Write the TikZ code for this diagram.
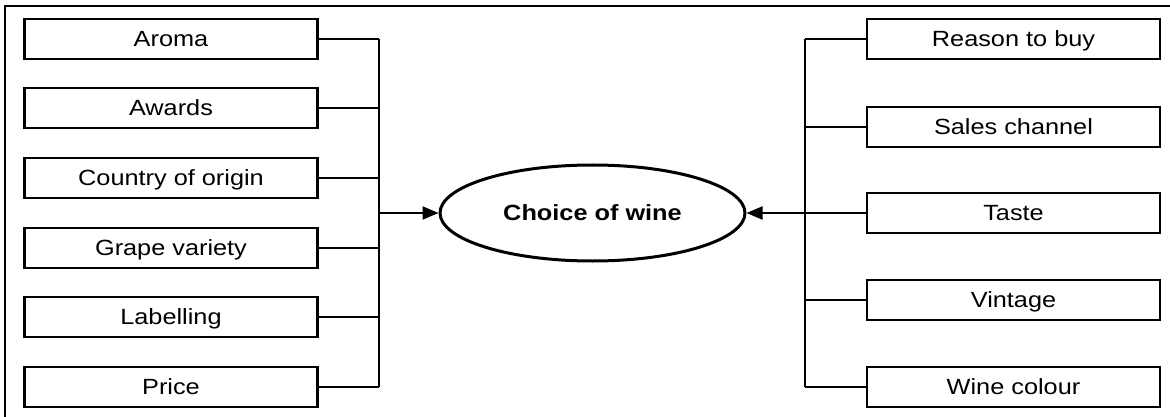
\documentclass[tikz,border=0pt]{standalone}
\usepackage{fontspec}
\setmainfont{Liberation Sans}[FakeStretch=1.15]
\usetikzlibrary{shapes.geometric,arrows.meta}
\begin{document}
\begin{tikzpicture}[x=1pt,y=-1pt,
  factor/.style={draw,line width=2.6pt,minimum width=293pt,minimum height=40pt,inner sep=0pt,text height=15.5pt,text depth=0pt,font=\fontsize{22}{24}\selectfont},
  conn/.style={line width=2pt},
  arr/.style={line width=2.2pt,-{Triangle[length=16pt,width=13pt]}}]
\useasboundingbox (0,0) rectangle (1170,417);
\draw[line width=1.8pt] (5,420) -- (5,6) -- (1172,6);
% centre
\node[ellipse,draw,line width=3pt,minimum width=305pt,minimum height=96pt,inner sep=0pt,text height=15.5pt,text depth=0pt,font=\fontsize{22}{24}\selectfont\bfseries] (C) at (592.5,213) {Choice of wine};
% left
\node[factor] (L1) at (171,39) {Aroma};
\node[factor] (L2) at (171,108) {Awards};
\node[factor] (L3) at (171,178) {Country of origin};
\node[factor] (L4) at (171,248) {Grape variety};
\node[factor] (L5) at (171,317) {Labelling};
\node[factor] (L6) at (171,387) {Price};
% right
\node[factor] (R1) at (1013.5,39) {Reason to buy};
\node[factor] (R2) at (1013.5,127) {Sales channel};
\node[factor] (R3) at (1013.5,213) {Taste};
\node[factor] (R4) at (1013.5,300) {Vintage};
\node[factor] (R5) at (1013.5,387) {Wine colour};
\coordinate (sl) at (379,213);
\coordinate (sr) at (805,213);
\foreach \n in {L1,L2,L3,L4,L5,L6}{\draw[conn] (\n.east) -- (\n.east -| sl);}
\foreach \n in {R1,R2,R3,R4,R5}{\draw[conn] (\n.west) -- (\n.west -| sr);}
\draw[conn] (L1.east -| sl) -- (L6.east -| sl);
\draw[conn] (R1.west -| sr) -- (R5.west -| sr);
\draw[arr] (sl) -- (C.west);
\draw[arr] (sr) -- (C.east);
\end{tikzpicture}
\end{document}
